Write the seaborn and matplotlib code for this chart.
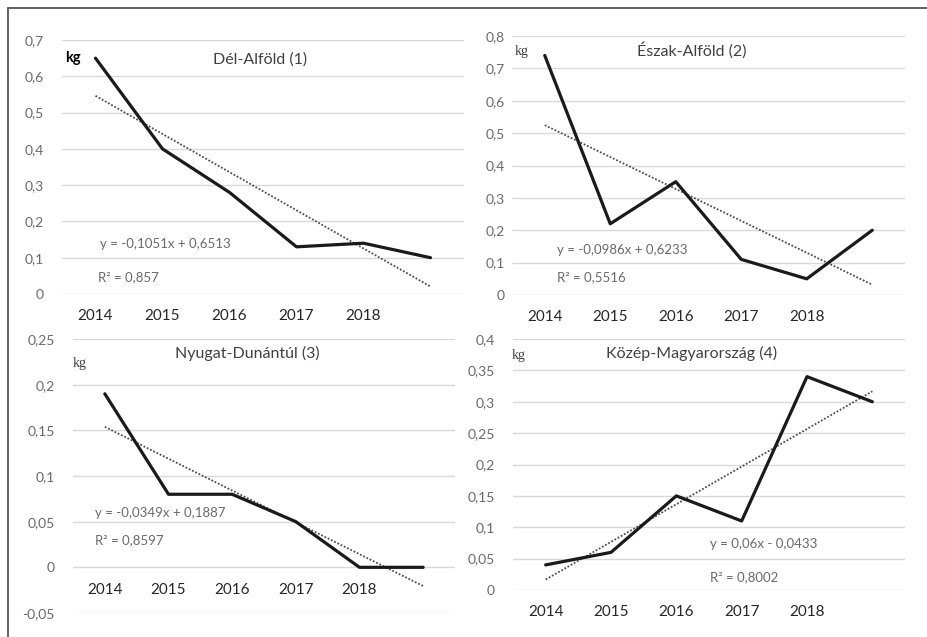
import matplotlib
matplotlib.use("Agg")
import matplotlib.pyplot as plt
from matplotlib.lines import Line2D
import seaborn as sns
import numpy as np
import pandas as pd

sns.set_theme(style="white")
plt.rcParams['font.family'] = ['Lato', 'DejaVu Sans']

# ---- data ----
years = [2014, 2015, 2016, 2017, 2018, 2019]
year_labels = ["2014", "2015", "2016", "2017", "2018", ""]
titles = ["Dél-Alföld (1)", "Észak-Alföld (2)", "Nyugat-Dunántúl (3)", "Közép-Magyarország (4)"]
del_alfold = [0.65, 0.40, 0.28, 0.13, 0.14, 0.10]
eszak_alfold = [0.74, 0.22, 0.35, 0.11, 0.05, 0.20]
nyugat_dunantul = [0.19, 0.08, 0.08, 0.05, 0.0, 0.0]
kozep_magyar = [0.04, 0.06, 0.15, 0.11, 0.34, 0.30]
equations = ["y = -0,1051x + 0,6513", "y = -0,0986x + 0,6233",
             "y = -0,0349x + 0,1887", "y = 0,06x - 0,0433"]
r2_texts = ["R² = 0,857", "R² = 0,5516", "R² = 0,8597", "R² = 0,8002"]
y_ticks = [
    [0, 0.1, 0.2, 0.3, 0.4, 0.5, 0.6, 0.7],
    [0, 0.1, 0.2, 0.3, 0.4, 0.5, 0.6, 0.7, 0.8],
    [-0.05, 0, 0.05, 0.1, 0.15, 0.2, 0.25],
    [0, 0.05, 0.1, 0.15, 0.2, 0.25, 0.3, 0.35, 0.4],
]
series = [del_alfold, eszak_alfold, nyugat_dunantul, kozep_magyar]

W, H = 928, 637
fig = plt.figure(figsize=(W / 100, H / 100), dpi=100)
fig.patch.set_facecolor("white")

# pixel rects: left, right, top, bottom
rects = [(62, 464, 40, 294), (512, 905, 36, 295), (73, 455, 339, 613), (513, 905, 339, 590)]
ypads = [13, 5, 13, 13]
# text positions in pixels
kg_pos = [(65, 58), (515, 52), (73, 363), (512, 355)]
title_pos = [(260, 60), (692, 50), (247, 353), (692, 353)]
eq_pos = [(100, 244), (557, 250), (95, 513), (710, 544)]
r2_pos = [(98, 277), (557, 277), (95, 540), (710, 577)]

def fmt(v):
    s = f"{v:g}".replace(".", ",")
    return s

tick_color = "#6a6a6a"
for i in range(4):
    l, r, t, b = rects[i]
    ax = fig.add_axes([l / W, 1 - b / H, (r - l) / W, (b - t) / H])
    df = pd.DataFrame({"year": years, "value": series[i]})
    sns.regplot(data=df, x="year", y="value", ax=ax, scatter=False, ci=None,
                truncate=True, line_kws=dict(color="#4d4d4d", lw=1.3, ls=(0, (1, 1))))
    sns.lineplot(data=df, x="year", y="value", ax=ax, color="#1a1a1a", lw=2.3)
    yt = y_ticks[i]
    ax.set_ylim(yt[0], yt[-1])
    ax.set_xlim(years[0] - 0.5, years[-1] + 0.5)
    ax.set_yticks(yt)
    ax.set_yticklabels([fmt(v) for v in yt], color=tick_color, fontsize=10)
    ax.set_xticks(years)
    ax.set_xticklabels(year_labels, color=tick_color, fontsize=10)
    ax.yaxis.grid(True, color="#d9d9d9", lw=1)
    ax.set_axisbelow(True)
    for s in ["top", "right", "left"]:
        ax.spines[s].set_visible(False)
    ax.spines["bottom"].set_position(("data", 0))
    ax.spines["bottom"].set_color("none")
    ax.tick_params(axis="y", length=0, pad=ypads[i])
    ax.tick_params(axis="x", length=0, pad=11)
    ax.set_xlabel("")
    ax.set_ylabel("")
    ax.set_facecolor("none")

    # texts
    kx, ky = kg_pos[i]
    if i == 0:
        fig.text(kx / W, 1 - ky / H, "kg", fontsize=10.5, fontweight="bold",
                 color="black", va="center", ha="left",
                 bbox=dict(facecolor="white", edgecolor="none", pad=2.5), zorder=5)
    else:
        fig.text(kx / W, 1 - ky / H, "kg", fontsize=10, family=["Liberation Serif", "DejaVu Serif"],
                 color="#404040", va="center", ha="left")
    tx, ty = title_pos[i]
    fig.text(tx / W, 1 - ty / H, titles[i], fontsize=11.5, color="#404040",
             va="center", ha="center")
    ex, ey = eq_pos[i]
    fig.text(ex / W, 1 - ey / H, equations[i], fontsize=9.5, color=tick_color,
             va="center", ha="left")
    rx, ry = r2_pos[i]
    fig.text(rx / W, 1 - ry / H, r2_texts[i], fontsize=9.5, color=tick_color,
             va="center", ha="left")

# frame lines (top and left)
fig.add_artist(Line2D([8 / W, 1], [1 - 8 / H, 1 - 8 / H], color="#555555", lw=1.3,
                      transform=fig.transFigure))
fig.add_artist(Line2D([8 / W, 8 / W], [0, 1 - 8 / H], color="#555555", lw=1.3,
                      transform=fig.transFigure))

fig.savefig("out.png", dpi=100)
